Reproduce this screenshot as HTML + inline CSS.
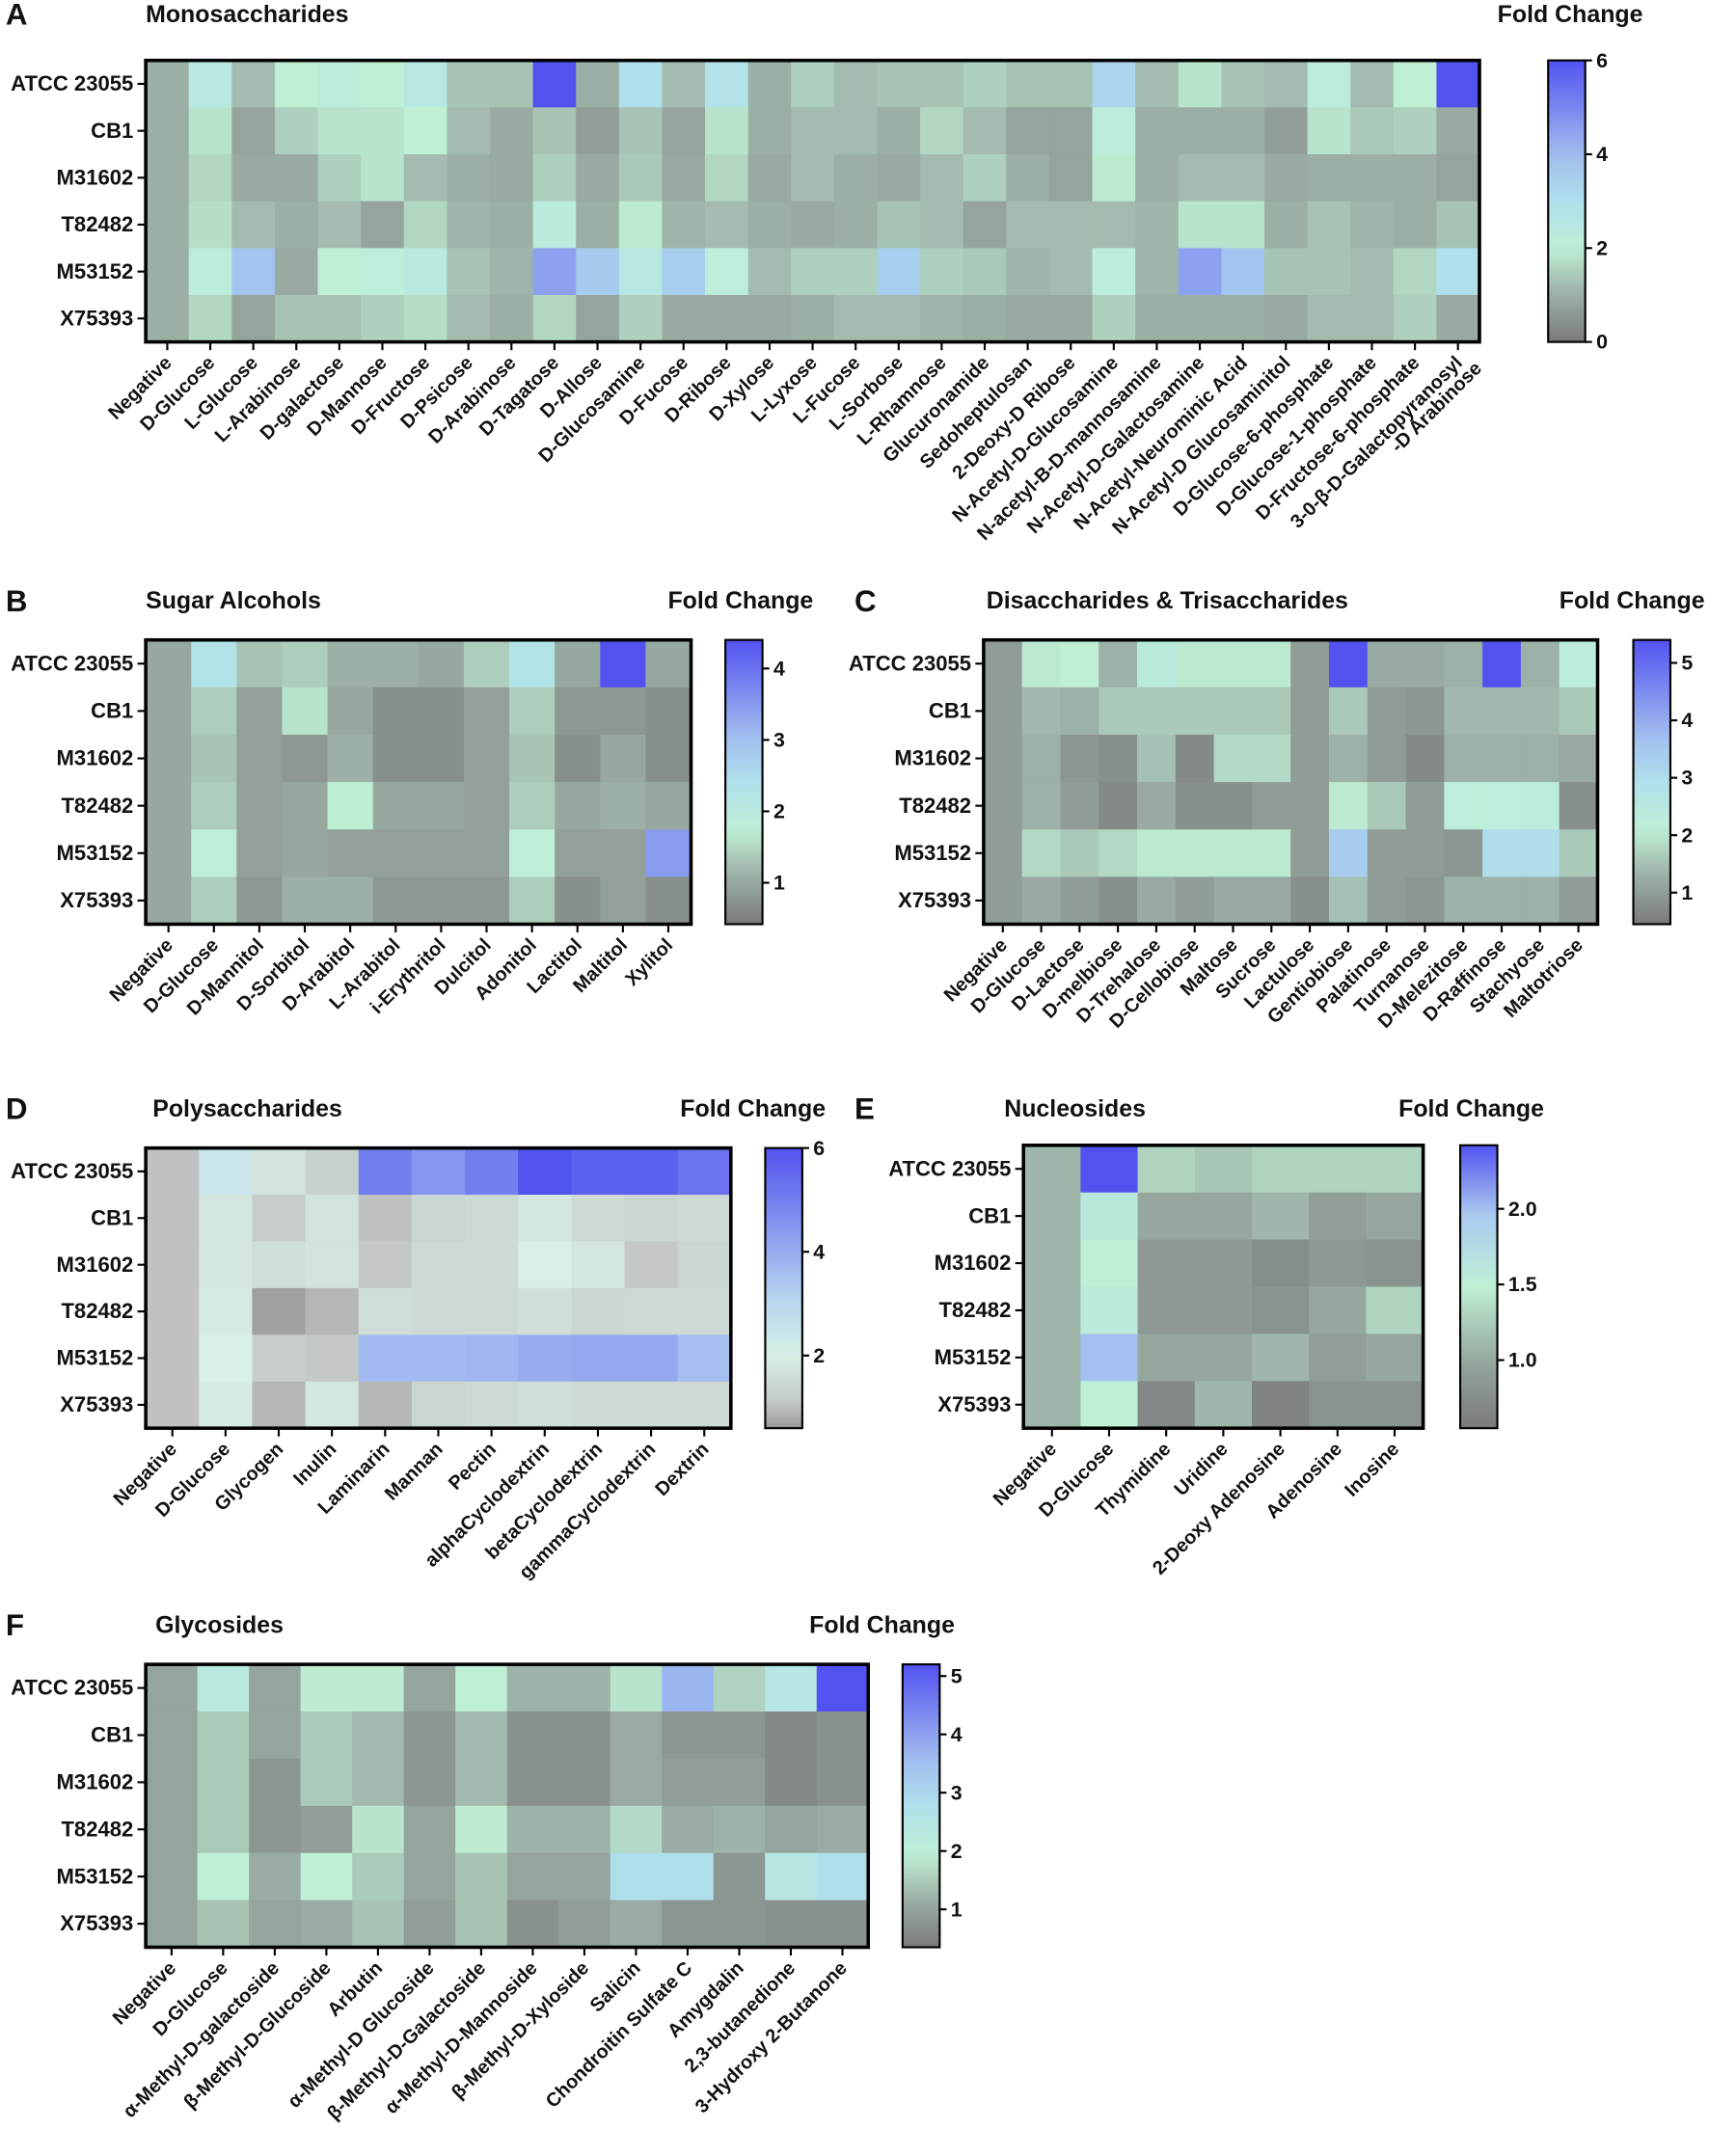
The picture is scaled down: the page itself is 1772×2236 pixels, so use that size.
<!DOCTYPE html>
<html><head><meta charset="utf-8"><style>
html,body{margin:0;padding:0;background:#fff}
svg{display:block}
text{font-family:"Liberation Sans",Arial,sans-serif;font-weight:bold;fill:#111}
</style></head><body>
<svg id="fig" xmlns="http://www.w3.org/2000/svg" width="1772" height="2236" viewBox="0 0 1244 1570"></svg>
<script>
const rows = ["ATCC 23055","CB1","M31602","T82482","M53152","X75393"];

const catsA = ["Negative","D-Glucose","L-Glucose","L-Arabinose","D-galactose","D-Mannose","D-Fructose","D-Psicose","D-Arabinose","D-Tagatose","D-Allose","D-Glucosamine","D-Fucose","D-Ribose","D-Xylose","L-Lyxose","L-Fucose","L-Sorbose","L-Rhamnose","Glucuronamide","Sedoheptulosan","2-Deoxy-D Ribose","N-Acetyl-D-Glucosamine","N-acetyl-B-D-mannosamine","N-Acetyl-D-Galactosamine","N-Acetyl-Neurominic Acid","N-Acetyl-D Glucosaminitol","D-Glucose-6-phosphate","D-Glucose-1-phosphate","D-Fructose-6-phosphate","3-0-β-D-Galactopyranosyl"];
const valsA = [
[1,2.5,1.2,2,2.2,2,2.5,1.3,1.3,6,1,3,1.2,2.8,1,1.5,1.2,1.3,1.3,1.5,1.3,1.3,3.3,1.2,1.8,1.3,1.2,2.2,1.2,2,6],
[1,1.8,0.8,1.5,1.8,1.8,2,1.2,0.9,1.3,0.7,1.3,0.8,1.8,1,1.2,1.2,1,1.6,1.2,0.8,0.8,2.2,1,1,1,0.7,1.8,1.4,1.5,0.9],
[1,1.6,0.9,0.9,1.5,1.8,1.2,1,0.9,1.5,0.9,1.4,0.9,1.6,0.9,1.2,1,0.9,1.2,1.5,1,0.8,1.9,1,1.2,1.2,0.9,1,1,1,0.8],
[1,1.7,1.2,1,1.2,0.8,1.6,1.1,1,2.3,1,1.9,1.1,1.2,1,0.9,1,1.3,1.2,0.8,1.2,1.2,1.2,1.1,1.8,1.8,1,1.3,1.1,1,1.3],
[1,2.2,3.8,0.9,2,2.1,2.4,1.3,1.1,4.5,3.6,2.5,3.5,2.1,1.2,1.5,1.5,3.5,1.5,1.4,1.1,1.2,2.2,1.1,4.5,3.8,1.3,1.3,1.2,1.6,3],
[1,1.6,0.8,1.3,1.3,1.5,1.7,1.2,1,1.6,0.8,1.5,0.9,0.9,0.9,1,1.2,1.2,1.1,1,0.9,0.9,1.5,1,1,1,0.9,1.2,1.2,1.5,0.9]];
const ticksA = [0,2,4,6];

const catsB = ["Negative","D-Glucose","D-Mannitol","D-Sorbitol","D-Arabitol","L-Arabitol","i-Erythritol","Dulcitol","Adonitol","Lactitol","Maltitol","Xylitol"];
const valsB = [
[1,2.3,1.3,1.4,1.1,1.1,1,1.4,2.3,1,4.4,1],
[1,1.4,0.9,1.6,1,0.7,0.7,0.9,1.4,0.8,0.8,0.7],
[1,1.3,0.9,0.8,1.1,0.7,0.7,0.9,1.3,0.7,1,0.7],
[1,1.4,0.9,1,1.7,1,1,0.9,1.4,1,1.1,1],
[1,1.8,0.9,1,0.9,0.9,0.9,0.9,1.8,0.9,0.9,3.5],
[1,1.4,0.8,1.1,1.1,0.8,0.8,0.8,1.4,0.7,0.9,0.7]];
const ticksB = [1,2,3,4];

const catsC = ["Negative","D-Glucose","D-Lactose","D-melbiose","D-Trehalose","D-Cellobiose","Maltose","Sucrose","Lactulose","Gentiobiose","Palatinose","Turnanose","D-Melezitose","D-Raffinose","Stachyose","Maltotriose"];
const valsC = [
[1,2,2.1,1.3,2.4,2,2,2,1,5.4,1.2,1.2,1.3,5.4,1.3,2.3],
[1,1.4,1.3,1.6,1.6,1.6,1.6,1.6,1,1.6,1,0.9,1.4,1.4,1.4,1.6],
[1,1.3,0.9,0.8,1.5,0.7,1.8,1.8,1,1.3,1,0.7,1.3,1.3,1.3,1.2],
[1,1.3,1,0.7,1.2,0.8,0.8,1,1,2,1.6,1,2.2,2.2,2.3,0.8],
[1,1.8,1.6,1.8,2,2,2,2,1,3.4,1,1,0.9,3,3,1.6],
[1,1.2,1,0.8,1.2,1,1.2,1.2,0.8,1.5,1,0.9,1.3,1.3,1.3,1]];
const ticksC = [1,2,3,4,5];

const catsD = ["Negative","D-Glucose","Glycogen","Inulin","Laminarin","Mannan","Pectin","alphaCyclodextrin","betaCyclodextrin","gammaCyclodextrin","Dextrin"];
const valsD = [
[1,2.5,1.7,1.3,5,4.5,5,6,5.7,5.7,5.3],
[1,1.8,1.2,1.7,1,1.4,1.5,1.8,1.5,1.4,1.5],
[1,1.8,1.6,1.7,1.1,1.5,1.5,2,1.8,1.1,1.4],
[1,1.9,0.7,0.9,1.6,1.5,1.5,1.6,1.4,1.5,1.5],
[1,2,1.2,1.1,3.7,3.7,3.8,4,4.1,4.1,3.6],
[1,1.9,0.9,1.8,0.9,1.4,1.5,1.6,1.5,1.5,1.5]];
const ticksD = [2,4,6];

const catsE = ["Negative","D-Glucose","Thymidine","Uridine","2-Deoxy Adenosine","Adenosine","Inosine"];
const valsE = [
[1.1,2.42,1.3,1.2,1.3,1.3,1.3],
[1.1,1.6,1.0,1.0,1.1,0.9,1.0],
[1.1,1.5,0.85,0.85,0.75,0.85,0.8],
[1.1,1.55,0.85,0.85,0.8,1.0,1.3],
[1.1,2.0,1.0,1.0,1.1,0.9,1.0],
[1.1,1.5,0.7,1.1,0.65,0.8,0.8]];
const ticksE = [1.0,1.5,2.0];

const catsF = ["Negative","D-Glucose","α-Methyl-D-galactoside","β-Methyl-D-Glucoside","Arbutin","α-Methyl-D Glucoside","β-Methyl-D-Galactoside","α-Methyl-D-Mannoside","β-Methyl-D-Xyloside","Salicin","Chondroitin Sulfate C","Amygdalin","2,3-butanedione","3-Hydroxy 2-Butanone"];
const valsF = [
[1,2.3,1,1.9,1.9,1,2,1.2,1.2,1.8,3.7,1.6,2.5,5.2],
[1,1.5,1,1.5,1.3,0.8,1.3,0.7,0.7,1.1,0.8,0.8,0.6,0.7],
[1,1.5,0.8,1.5,1.3,0.8,1.3,0.7,0.7,1.1,0.9,0.9,0.6,0.7],
[1,1.5,0.8,0.9,1.8,1,1.9,1.2,1.2,1.7,1.1,1.2,1,1.1],
[1,2,1.1,2,1.5,1,1.4,1,1,2.8,2.8,0.8,2.4,2.8],
[1,1.4,1,1.1,1.4,0.9,1.4,0.7,0.9,1.1,0.8,0.8,0.7,0.7]];
const ticksF = [1,2,3,4,5];

const NS="http://www.w3.org/2000/svg";
const svg=document.getElementById('fig');
const stdStops=[[0,[122,122,122]],[0.17,[156,176,166]],[0.33,[191,240,214]],[0.5,[176,224,236]],[0.67,[160,188,239]],[1,[82,82,240]]];
const eStops=[[0,[122,122,122]],[0.24,[150,168,158]],[0.5,[191,240,214]],[0.76,[170,200,240]],[1,[82,82,240]]];
const dStops=[[0,[150,150,150]],[0.08,[194,198,196]],[0.26,[216,240,230]],[0.45,[184,216,240]],[1,[82,82,238]]];
function col(t,stops){t=Math.max(0,Math.min(1,t));for(let i=1;i<stops.length;i++){if(t<=stops[i][0]){const a=stops[i-1],b=stops[i];const f=(t-a[0])/(b[0]-a[0]);return 'rgb('+a[1].map((c,k)=>Math.round(c+(b[1][k]-c)*f)).join(',')+')';}}const l=stops[stops.length-1][1];return 'rgb('+l.join(',')+')';}
function mk(tag,attrs,parent){const e=document.createElementNS(NS,tag);for(const k in attrs)e.setAttribute(k,attrs[k]);(parent||svg).appendChild(e);return e;}
function txt(s,attrs,parent){const e=mk('text',attrs,parent);e.textContent=s;return e;}
let gid=0;
function panel(p){
  const g=mk('g',{});
  
  
  const nC=p.cats.length,nR=rows.length;
  const cw=(p.x1-p.x0)/nC,rh=(p.y1-p.y0)/nR;
  const xs=i=>p.x0+i*cw, ys=j=>p.y0+j*rh;
  const tt=v=>(v-p.min)/(p.max-p.min);
  p.vals.forEach((r,j)=>r.forEach((v,i)=>{
    const c=mk('rect',{x:xs(i),y:ys(j),width:cw+0.5,height:rh+0.5,fill:col(tt(v),p.stops)},g);
    
    
  }));
  mk('rect',{x:p.x0,y:p.y0,width:p.x1-p.x0,height:p.y1-p.y0,fill:'none',stroke:'#000','stroke-width':2.5},g);
  rows.forEach((r,j)=>{
    const yc=ys(j)+rh/2;
    mk('line',{x1:p.x0-6,x2:p.x0,y1:yc,y2:yc,stroke:'#000','stroke-width':1.5},g);
    const t=txt(r,{x:p.x0-9,y:yc+5,'text-anchor':'end','font-size':15.5},g);
    
    
  });
  p.cats.forEach((c,i)=>{
    const xc=xs(i)+cw/2;
    mk('line',{x1:xc,x2:xc,y1:p.y1,y2:p.y1+6,stroke:'#000','stroke-width':1.5},g);
    const t=txt(c,{x:xc+4,y:p.y1+16,'text-anchor':'end','font-size':14,transform:`rotate(-45 ${xc+4} ${p.y1+16})`},g);
    
    
  });
  if(p.extra){const xc=xs(nC-1)+cw/2+14;const t=txt(p.extra,{x:xc+4,y:p.y1+20,'text-anchor':'end','font-size':14,transform:`rotate(-45 ${xc+4} ${p.y1+20})`},g);
    
    }
  const lt=txt(p.letter,{x:p.lx,y:p.ty+2,'font-size':22},g);
  
  
  const ti=txt(p.title,{x:p.tx,y:p.ty,'font-size':17.5},g);
  
  
  const fc=txt('Fold Change',{x:p.fx,y:p.ty,'font-size':17.5,'text-anchor':'end'},g);
  
  
  const id='grad'+(gid++);
  const gr=mk('linearGradient',{id:id,x1:0,y1:1,x2:0,y2:0},g);
  for(let k=0;k<=20;k++)mk('stop',{offset:k/20,'stop-color':col(k/20,p.stops)},gr);
  const cb=mk('rect',{x:p.cbx,y:p.y0,width:27,height:p.y1-p.y0,fill:`url(#${id})`,stroke:'#000','stroke-width':1.5},g);
  
  
  p.ticks.forEach(v=>{
    const y=p.y1-tt(v)*(p.y1-p.y0);
    mk('line',{x1:p.cbx+27,x2:p.cbx+32,y1:y,y2:y,stroke:'#000','stroke-width':1.5},g);
    const t=txt(p.fmt?v.toFixed(1):String(v),{x:p.cbx+35,y:y+5,'font-size':15,'font-weight':'normal'},g);
    
    
  });
}
panel({name:'monosaccharides',title:'Monosaccharides',cats:catsA,vals:valsA,ticks:ticksA,min:0,max:6,stops:stdStops,x0:106,x1:1077,y0:44,y1:249,cbx:1127,letter:'A',lx:4,tx:106,ty:16,fx:1196,extra:'-D Arabinose'});
panel({name:'sugar-alcohols',title:'Sugar Alcohols',cats:catsB,vals:valsB,ticks:ticksB,min:0.42,max:4.4,stops:stdStops,x0:106,x1:503,y0:466,y1:673,cbx:528,letter:'B',lx:4,tx:106,ty:443,fx:592});
panel({name:'disaccharides',title:'Disaccharides & Trisaccharides',cats:catsC,vals:valsC,ticks:ticksC,min:0.45,max:5.4,stops:stdStops,x0:716,x1:1163,y0:466,y1:673,cbx:1189,letter:'C',lx:622,tx:718,ty:443,fx:1241});
panel({name:'polysaccharides',title:'Polysaccharides',cats:catsD,vals:valsD,ticks:ticksD,min:0.6,max:6,stops:dStops,x0:106,x1:532,y0:836,y1:1040,cbx:557,letter:'D',lx:4,tx:111,ty:813,fx:601});
panel({name:'nucleosides',title:'Nucleosides',cats:catsE,vals:valsE,ticks:ticksE,min:0.55,max:2.42,stops:eStops,x0:745,x1:1036,y0:834,y1:1040,cbx:1063,letter:'E',lx:622,tx:731,ty:813,fx:1124,fmt:true});
panel({name:'glycosides',title:'Glycosides',cats:catsF,vals:valsF,ticks:ticksF,min:0.35,max:5.2,stops:stdStops,x0:106,x1:632,y0:1212,y1:1418,cbx:657,letter:'F',lx:4,tx:113,ty:1189,fx:695});
</script>
</body></html>
